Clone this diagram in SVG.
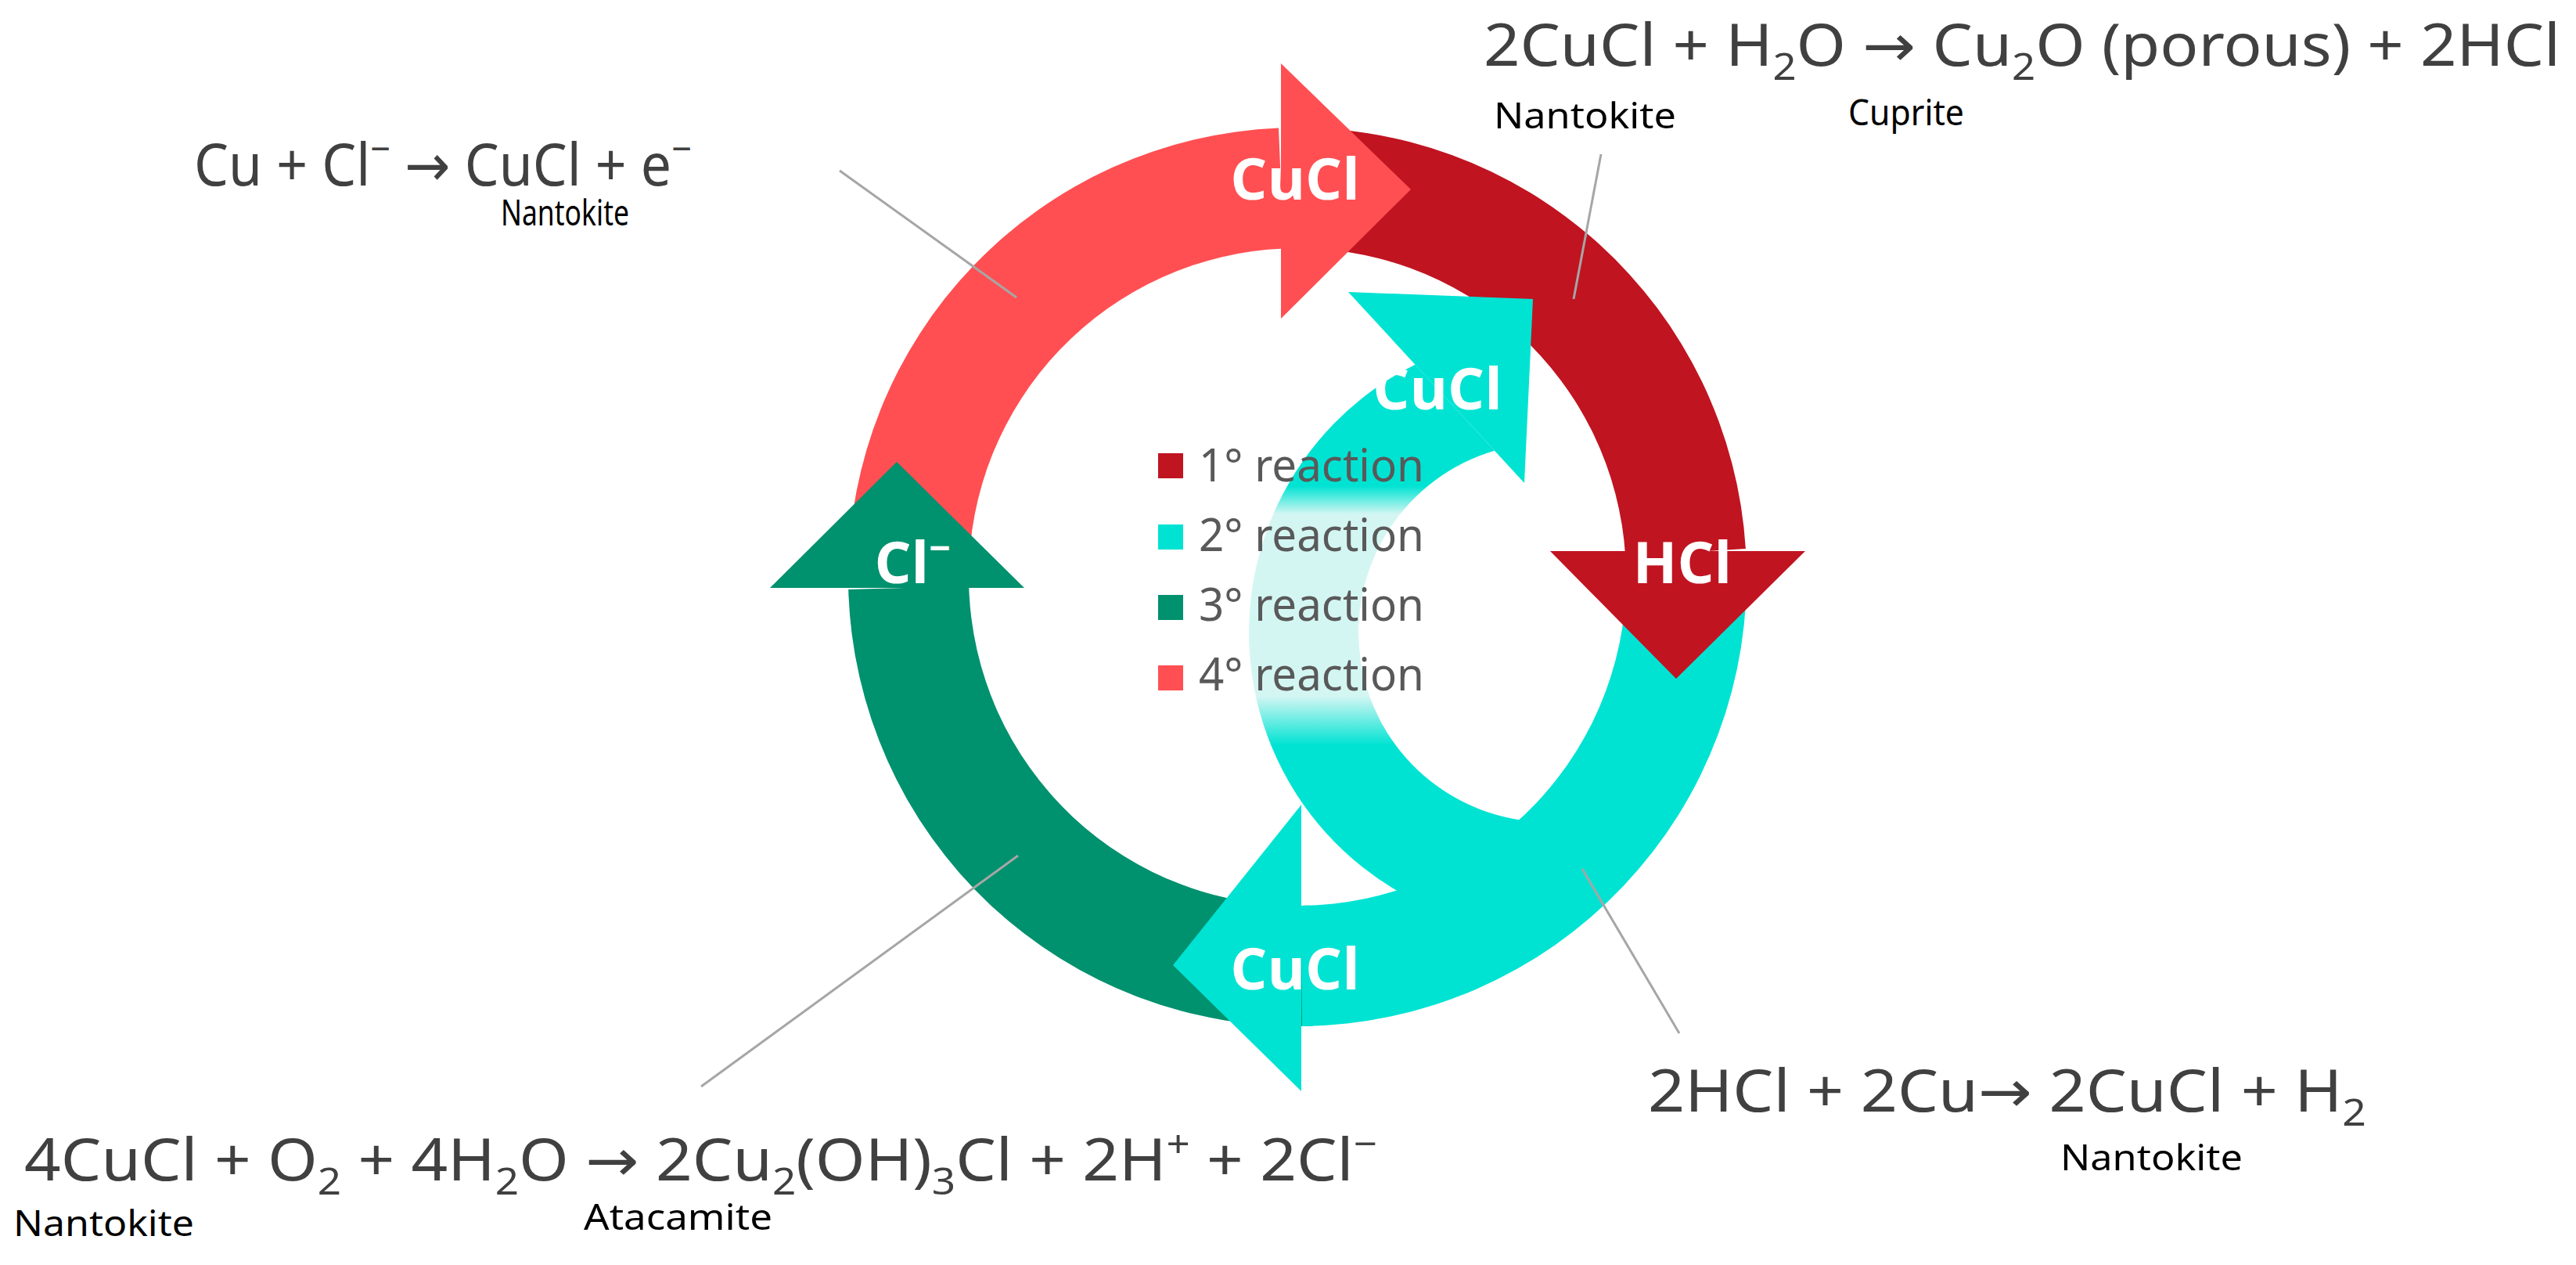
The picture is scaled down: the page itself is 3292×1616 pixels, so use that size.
<svg xmlns="http://www.w3.org/2000/svg" width="3292" height="1616" viewBox="0 0 3292 1616">
<style>
.eq{font-family:"Noto Sans","Open Sans",sans-serif;fill:#404040;font-size:74px}
.ar{font-family:"DejaVu Sans",sans-serif}
.min{font-family:"Noto Sans","Open Sans",sans-serif;fill:#000;font-size:46px}
.lab{font-family:"Open Sans","Noto Sans",sans-serif;font-weight:bold;fill:#fff;font-size:74px;text-anchor:middle}
.leg{font-family:"Noto Sans","Open Sans",sans-serif;fill:#595959;font-size:58px}
.lead{stroke:#a6a6a6;stroke-width:3;fill:none}
.pink{fill:#ff4f52}.red{fill:#c01421}.cyan{fill:#00e3d3}.green{fill:#00916e}
</style>
<defs>
<linearGradient id="fade" gradientUnits="userSpaceOnUse" x1="0" y1="600" x2="0" y2="960">
<stop offset="0.058" stop-color="#00e3d3"/>
<stop offset="0.158" stop-color="#d4f6f3"/>
<stop offset="0.803" stop-color="#d4f6f3"/>
<stop offset="0.978" stop-color="#00e3d3"/>
</linearGradient>
</defs>
<rect width="3292" height="1616" fill="#fff"/>
<g id="bands">
<path class="green" d="M1678,1310.6 A574 574 0 0 1 1084.2,753 L1238.2,748.7 A420 420 0 0 0 1672.7,1156.7 Z"/>
<path class="cyan" d="M2231.5,712 A574 574 0 0 1 1664,1311 L1662.4,1157 A420 420 0 0 0 2077.9,718.7 Z"/>
<path class="red" d="M1638,163.4 A574 574 0 0 1 2230.9,701 L2077.2,710.6 A420 420 0 0 0 1643.3,317.3 Z"/>
<path class="pink" d="M1084,737 A574 574 0 0 1 1634,163.5 L1640.4,317.4 A420 420 0 0 0 1238,737 Z"/>
</g>
<g id="node-2-main">
<polygon class="cyan" points="1663,1028 1499,1233 1663,1394"/>
<text class="lab" x="1655" y="1264">CuCl</text>
</g>
<g id="node-1">
<polygon class="red" points="1981,704 2307,704 2142,867"/>
<text class="lab" x="2150" y="745">HCl</text>
</g>
<g id="node-4">
<polygon class="pink" points="1637,81 1803,242 1637,407"/>
<text class="lab" x="1655" y="255">CuCl</text>
</g>
<g id="node-3">
<polygon class="green" points="984,751 1309,751 1146,590"/>
<text class="lab" x="1166" y="745">Cl<tspan font-size="48" dy="-28">−</tspan></text>
</g>
<g id="node-2-inner">
<path fill="url(#fade)" d="M1978,1190 A382 382 0 0 1 1808.5,465.7 L1910,575.8 A242 242 0 0 0 1978,1050 Z"/>
<polygon class="cyan" points="1723,373 1959,382 1948,617"/>
<text class="lab" x="1837" y="523">CuCl</text>
</g>
<g id="legend">
<rect x="1480" y="579" width="32" height="32" fill="#c01421"/>
<rect x="1480" y="670" width="32" height="32" fill="#00e3d3"/>
<rect x="1480" y="760" width="32" height="32" fill="#00916e"/>
<rect x="1480" y="850" width="32" height="32" fill="#ff4f52"/>
<text class="leg" x="1532" y="615" textLength="288" lengthAdjust="spacingAndGlyphs">1° reaction</text>
<text class="leg" x="1532" y="704" textLength="288" lengthAdjust="spacingAndGlyphs">2° reaction</text>
<text class="leg" x="1532" y="793" textLength="288" lengthAdjust="spacingAndGlyphs">3° reaction</text>
<text class="leg" x="1532" y="882" textLength="288" lengthAdjust="spacingAndGlyphs">4° reaction</text>
</g>
<g id="connectors">
<line class="lead" x1="1073" y1="218" x2="1299" y2="380"/>
<line class="lead" x1="2046" y1="197" x2="2011" y2="382"/>
<line class="lead" x1="1301" y1="1093" x2="896" y2="1388"/>
<line class="lead" x1="2022" y1="1110" x2="2146" y2="1320"/>
</g>
<g id="eq-4">
<text class="eq" x="248" y="237" textLength="636" lengthAdjust="spacingAndGlyphs">Cu + Cl<tspan font-size="48" dy="-30">−</tspan><tspan dy="30"> </tspan><tspan class="ar">→</tspan> CuCl + e<tspan font-size="48" dy="-30">−</tspan></text>
<text class="min" x="640" y="288" font-size="38" textLength="164" lengthAdjust="spacingAndGlyphs">Nantokite</text>
</g>
<g id="eq-1">
<text class="eq" x="1896" y="84" textLength="1376" lengthAdjust="spacingAndGlyphs">2CuCl + H<tspan font-size="48" dy="18">2</tspan><tspan dy="-18">O </tspan><tspan class="ar">→</tspan> Cu<tspan font-size="48" dy="18">2</tspan><tspan dy="-18">O (porous) + 2HCl</tspan></text>
<text class="min" x="1909" y="164" textLength="233" lengthAdjust="spacingAndGlyphs">Nantokite</text>
<text class="min" x="2362" y="160" textLength="148" lengthAdjust="spacingAndGlyphs">Cuprite</text>
</g>
<g id="eq-3">
<text class="eq" x="31" y="1508" textLength="1729" lengthAdjust="spacingAndGlyphs">4CuCl + O<tspan font-size="48" dy="18">2</tspan><tspan dy="-18"> + 4H</tspan><tspan font-size="48" dy="18">2</tspan><tspan dy="-18">O </tspan><tspan class="ar">→</tspan> 2Cu<tspan font-size="48" dy="18">2</tspan><tspan dy="-18">(OH)</tspan><tspan font-size="48" dy="18">3</tspan><tspan dy="-18">Cl + 2H</tspan><tspan font-size="48" dy="-30">+</tspan><tspan dy="30"> + 2Cl</tspan><tspan font-size="48" dy="-30">−</tspan></text>
<text class="min" x="17" y="1579" textLength="231" lengthAdjust="spacingAndGlyphs">Nantokite</text>
<text class="min" x="746" y="1571" textLength="241" lengthAdjust="spacingAndGlyphs">Atacamite</text>
</g>
<g id="eq-2">
<text class="eq" x="2106" y="1420" textLength="918" lengthAdjust="spacingAndGlyphs">2HCl + 2Cu<tspan class="ar">→</tspan> 2CuCl + H<tspan font-size="48" dy="18">2</tspan></text>
<text class="min" x="2633" y="1495" textLength="233" lengthAdjust="spacingAndGlyphs">Nantokite</text>
</g>
</svg>
